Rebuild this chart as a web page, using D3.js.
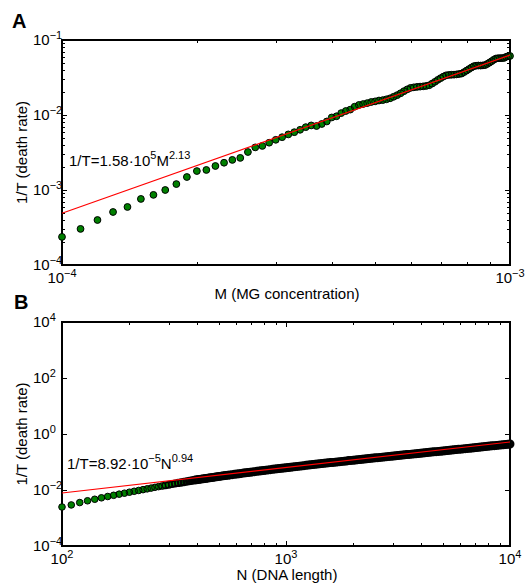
<!DOCTYPE html>
<html><head><meta charset="utf-8">
<script src="https://cdn.jsdelivr.net/npm/d3@7"></script>
<style>
body{margin:0;background:#fff}
svg text{font-family:"Liberation Sans",Arial,Helvetica,sans-serif;fill:#000}
</style>
</head><body>
<svg id="c" width="528" height="584"></svg>
<script>
// ---------- Panel A data: MG concentration vs death rate ----------
const concA = [1.0e-4,1.1e-4,1.2e-4,1.3e-4,1.4e-4,1.5e-4,1.6e-4,1.7e-4,1.8e-4,1.9e-4,
2.0e-4,2.1e-4,2.2e-4,2.3e-4,2.4e-4,2.5e-4,2.6e-4,2.7e-4,2.8e-4,2.9e-4,
3.0e-4,3.1e-4,3.2e-4,3.3e-4,3.4e-4,3.5e-4,3.6e-4,3.7e-4,3.8e-4,3.9e-4,
4.0e-4,4.1e-4,4.2e-4,4.3e-4,4.4e-4,4.5e-4,4.6e-4,4.7e-4,4.8e-4,4.9e-4,
5.0e-4,5.1e-4,5.2e-4,5.3e-4,5.4e-4,5.5e-4,5.6e-4,5.7e-4,5.8e-4,5.9e-4,
6.0e-4,6.1e-4,6.2e-4,6.3e-4,6.4e-4,6.5e-4,6.6e-4,6.7e-4,6.8e-4,6.9e-4,
7.0e-4,7.1e-4,7.2e-4,7.3e-4,7.4e-4,7.5e-4,7.6e-4,7.7e-4,7.8e-4,7.9e-4,
8.0e-4,8.1e-4,8.2e-4,8.3e-4,8.4e-4,8.5e-4,8.6e-4,8.7e-4,8.8e-4,8.9e-4,
9.0e-4,9.1e-4,9.2e-4,9.3e-4,9.4e-4,9.5e-4,9.6e-4,9.7e-4,9.8e-4,9.9e-4,1.0e-3];
const rateA = [2.37e-4,3.03e-4,3.98e-4,5.09e-4,5.94e-4,7.60e-4,8.61e-4,1.00e-3,1.20e-3,1.49e-3,
1.79e-3,1.85e-3,2.09e-3,2.31e-3,2.52e-3,2.68e-3,3.21e-3,3.70e-3,3.87e-3,4.27e-3,
4.67e-3,5.06e-3,5.51e-3,5.90e-3,6.35e-3,6.89e-3,7.26e-3,7.13e-3,7.59e-3,8.20e-3,
9.27e-3,9.62e-3,1.06e-2,1.13e-2,1.18e-2,1.29e-2,1.36e-2,1.40e-2,1.44e-2,1.49e-2,
1.52e-2,1.56e-2,1.58e-2,1.62e-2,1.67e-2,1.75e-2,1.84e-2,1.95e-2,2.08e-2,2.20e-2,
2.30e-2,2.34e-2,2.37e-2,2.39e-2,2.41e-2,2.44e-2,2.49e-2,2.62e-2,2.77e-2,2.94e-2,
3.10e-2,3.25e-2,3.38e-2,3.42e-2,3.44e-2,3.45e-2,3.48e-2,3.52e-2,3.57e-2,3.73e-2,
3.91e-2,4.10e-2,4.29e-2,4.47e-2,4.54e-2,4.57e-2,4.56e-2,4.59e-2,4.63e-2,4.80e-2,
5.00e-2,5.22e-2,5.45e-2,5.66e-2,5.71e-2,5.73e-2,5.74e-2,5.77e-2,5.96e-2,6.08e-2,6.12e-2];
// fitted power law 1/T = 1.58e5 M^2.13 (end points as drawn)
const fitConcA = [1e-4, 1e-3];
const fitRateA = [4.9e-4, 6.3e-2];

// ---------- Panel B data: DNA length vs death rate ----------
const lenB = [100,110,120,130,140,150,160,170,180,190,200,210,220,230,240,250,260,270,280,290,
300,310,320,330,340,350,360,370,380,390,
398,407,417,427,437,447,457,468,479,490,501,513,525,537,550,562,575,589,603,617,
631,646,661,676,692,708,724,741,759,776,794,813,832,851,871,891,912,933,955,977,
1000,1023,1047,1072,1096,1122,1148,1175,1202,1230,1259,1288,1318,1349,1380,1413,1445,1479,1514,1549,
1585,1622,1660,1698,1738,1778,1820,1862,1905,1950,1995,2042,2089,2138,2188,2239,2291,2344,2399,2455,
2512,2570,2630,2692,2754,2818,2884,2951,3020,3090,3162,3236,3311,3388,3467,3548,3631,3715,3802,3890,
3981,4074,4169,4266,4365,4467,4571,4677,4786,4898,5012,5129,5248,5370,5495,5623,5754,5888,6026,6166,
6310,6457,6607,6761,6918,7079,7244,7413,7586,7762,7943,8128,8318,8511,8710,8913,9120,9333,9550,9772,10000];
const rateB = [2.47e-3,2.93e-3,3.56e-3,4.12e-3,4.67e-3,5.26e-3,5.86e-3,6.46e-3,7.10e-3,7.69e-3,
8.34e-3,9.00e-3,9.64e-3,1.03e-2,1.10e-2,1.17e-2,1.25e-2,1.32e-2,1.39e-2,1.47e-2,
1.55e-2,1.63e-2,1.71e-2,1.78e-2,1.86e-2,1.94e-2,2.01e-2,2.09e-2,2.18e-2,2.25e-2,
2.31e-2,2.38e-2,2.44e-2,2.51e-2,2.58e-2,2.65e-2,2.72e-2,2.80e-2,2.88e-2,2.96e-2,
3.04e-2,3.12e-2,3.20e-2,3.28e-2,3.36e-2,3.45e-2,3.54e-2,3.63e-2,3.73e-2,3.82e-2,
3.92e-2,4.02e-2,4.12e-2,4.22e-2,4.32e-2,4.42e-2,4.53e-2,4.64e-2,4.75e-2,4.87e-2,
4.99e-2,5.10e-2,5.22e-2,5.33e-2,5.46e-2,5.58e-2,5.71e-2,5.84e-2,5.97e-2,6.11e-2,
6.25e-2,6.38e-2,6.52e-2,6.66e-2,6.81e-2,6.95e-2,7.11e-2,7.26e-2,7.42e-2,7.58e-2,
7.74e-2,7.90e-2,8.07e-2,8.23e-2,8.40e-2,8.58e-2,8.76e-2,8.94e-2,9.12e-2,9.31e-2,
9.50e-2,9.69e-2,9.89e-2,0.101,0.103,0.105,0.107,0.109,0.112,0.114,
0.116,0.118,0.121,0.123,0.125,0.128,0.130,0.133,0.135,0.138,
0.141,0.143,0.146,0.149,0.152,0.155,0.158,0.161,0.164,0.167,
0.170,0.174,0.177,0.180,0.184,0.187,0.191,0.194,0.198,0.202,
0.206,0.210,0.214,0.218,0.222,0.226,0.230,0.234,0.239,0.243,
0.248,0.253,0.257,0.262,0.267,0.272,0.278,0.283,0.288,0.294,
0.300,0.305,0.311,0.317,0.323,0.329,0.336,0.342,0.349,0.356,
0.362,0.370,0.377,0.384,0.392,0.399,0.407,0.415,0.423,0.431,0.440];
// fitted power law 1/T = 8.92e-5 N^0.94 (end points as drawn)
const fitLenB = [100, 10000];
const fitRateB = [7.8e-3, 0.518];

// ---------- tick exponents / labels ----------
const xTickExpA = [-4, -3];
const yTickExpA = [-4, -3, -2, -1];
const xTickExpB = [2, 3, 4];
const yTickExpB = [-4, -2, 0, 2, 4];
const panelLetters = ["A", "B"];
const xTitles = ["M (MG concentration)", "N (DNA length)"];
const yTitle = "1/T (death rate)";

const svg = d3.select("#c");
const L = 62, R = 510;
const FS = 15, SUP = 11;
const fmtExp = e => e < 0 ? "\u2212" + (-e) : String(e);
function minors(lo, hi) { // exponents lo..hi-1, multipliers 2..9
  const out = [];
  for (let e = lo; e < hi; e++) for (let k = 2; k <= 9; k++) out.push(k * Math.pow(10, e));
  return out;
}

function panel(o) {
  const g = svg.append("g");
  const x = d3.scaleLog().domain([Math.pow(10, o.xExp[0]), Math.pow(10, o.xExp[o.xExp.length - 1])]).range([L, R]);
  const y = d3.scaleLog().domain([Math.pow(10, o.yExp[0]), Math.pow(10, o.yExp[o.yExp.length - 1])]).range([o.bottom, o.top]);
  const xMaj = o.xExp.map(e => Math.pow(10, e));
  const yMaj = o.yExp.map(e => Math.pow(10, e));
  const axes = [
    [d3.axisBottom, x, `translate(0,${o.bottom})`],
    [d3.axisTop, x, `translate(0,${o.top})`],
    [d3.axisLeft, y, `translate(${L},0)`],
    [d3.axisRight, y, `translate(${R},0)`]
  ];
  axes.forEach(([fn, sc, tr], i) => {
    const isX = i < 2;
    const maj = isX ? xMaj : yMaj;
    const mn = isX ? o.xMinor : o.yMinor;
    [[maj, 5], [mn, 3]].forEach(([vals, len]) => {
      if (!vals.length) return;
      g.append("g").attr("transform", tr)
        .call(fn(sc).tickValues(vals).tickSize(-len).tickFormat(""))
        .call(s => s.select(".domain").remove())
        .selectAll("line").attr("stroke", "#000").attr("stroke-width", 1).attr("shape-rendering", "crispEdges");
    });
  });
  g.append("rect").attr("x", L).attr("y", o.top).attr("width", R - L).attr("height", o.bottom - o.top)
    .attr("fill", "none").attr("stroke", "#000").attr("stroke-width", 1.3).attr("shape-rendering", "crispEdges");

  const pts = d3.zip(o.xs, o.ys).map((d, i, arr) => {
    const gap = i > 0 ? Math.abs(x(d[0]) - x(arr[i - 1][0])) : 99;
    return { v: d, gap };
  });
  // overlapping edges of densely packed markers merge into a dark band
  const edgeW = d => o.denseEdge ? Math.max(1, Math.min(2.4, 1 + (3.6 - d.gap) * 1.1)) : 1;
  const pg = g.append("g");
  pg.selectAll("circle.f").data(pts).join("circle").attr("class", "f")
    .attr("cx", d => x(d.v[0])).attr("cy", d => y(d.v[1])).attr("r", o.r)
    .attr("fill", "#008000").attr("stroke", "none");
  pg.selectAll("circle.s").data(pts).join("circle").attr("class", "s")
    .attr("cx", d => x(d.v[0])).attr("cy", d => y(d.v[1])).attr("r", o.r)
    .attr("fill", "none").attr("stroke", "#000")
    .attr("stroke-width", edgeW);

  g.append("path").datum(d3.zip(o.fitX, o.fitY))
    .attr("d", d3.line().x(d => x(d[0])).y(d => y(d[1])))
    .attr("fill", "none").attr("stroke", "#ff0000").attr("stroke-width", 1.2);

  // tick labels
  o.xExp.forEach(e => {
    const t = g.append("text").attr("x", x(Math.pow(10, e))).attr("y", o.bottom + 18)
      .attr("text-anchor", "middle").attr("font-size", FS);
    t.append("tspan").text("10");
    t.append("tspan").attr("dy", -6).attr("font-size", SUP).text(fmtExp(e));
  });
  o.yExp.forEach(e => {
    const t = g.append("text").attr("x", 33).attr("y", y(Math.pow(10, e)) + 5).attr("font-size", FS);
    t.append("tspan").text("10");
    t.append("tspan").attr("dy", -6).attr("font-size", SUP).text(fmtExp(e));
  });
  // axis titles
  g.append("text").attr("x", (L + R) / 2 + 1).attr("y", o.bottom + 34).attr("text-anchor", "middle")
    .attr("font-size", FS).text(o.xTitle);
  g.append("text").attr("transform", `translate(27,${(o.top + o.bottom) / 2}) rotate(-90)`)
    .attr("text-anchor", "middle").attr("font-size", FS).text(yTitle);
  // panel letter
  g.append("text").attr("x", o.letterX).attr("y", o.letterY).attr("font-size", 20)
    .attr("font-weight", "bold").text(o.letter);
  // fit annotation
  const a = g.append("text").attr("x", o.annX).attr("y", o.annY).attr("font-size", FS);
  let up = false;
  o.ann.forEach(([s, sup]) => {
    const dy = sup ? (up ? 0 : -7) : (up ? 7 : 0);
    up = sup;
    a.append("tspan").attr("dy", dy).attr("font-size", sup ? SUP : FS).text(s);
  });
}

panel({
  top: 40, bottom: 265, xExp: xTickExpA, yExp: yTickExpA,
  xMinor: minors(-4, -3), yMinor: minors(-4, -1),
  xs: concA, ys: rateA, r: 3.4, fitX: fitConcA, fitY: fitRateA, denseEdge: false,
  xTitle: xTitles[0], letter: panelLetters[0], letterX: 12, letterY: 28,
  annX: 69, annY: 166,
  ann: [["1/T=1.58\u00b710", false], ["5", true], ["M", false], ["2.13", true]]
});
panel({
  top: 322, bottom: 546, xExp: xTickExpB, yExp: yTickExpB,
  xMinor: minors(2, 4), yMinor: [],
  xs: lenB, ys: rateB, r: 3.3, fitX: fitLenB, fitY: fitRateB, denseEdge: true,
  xTitle: xTitles[1], letter: panelLetters[1], letterX: 14, letterY: 309,
  annX: 67, annY: 469,
  ann: [["1/T=8.92\u00b710", false], ["\u22125", true], ["N", false], ["0.94", true]]
});
</script>
</body></html>
